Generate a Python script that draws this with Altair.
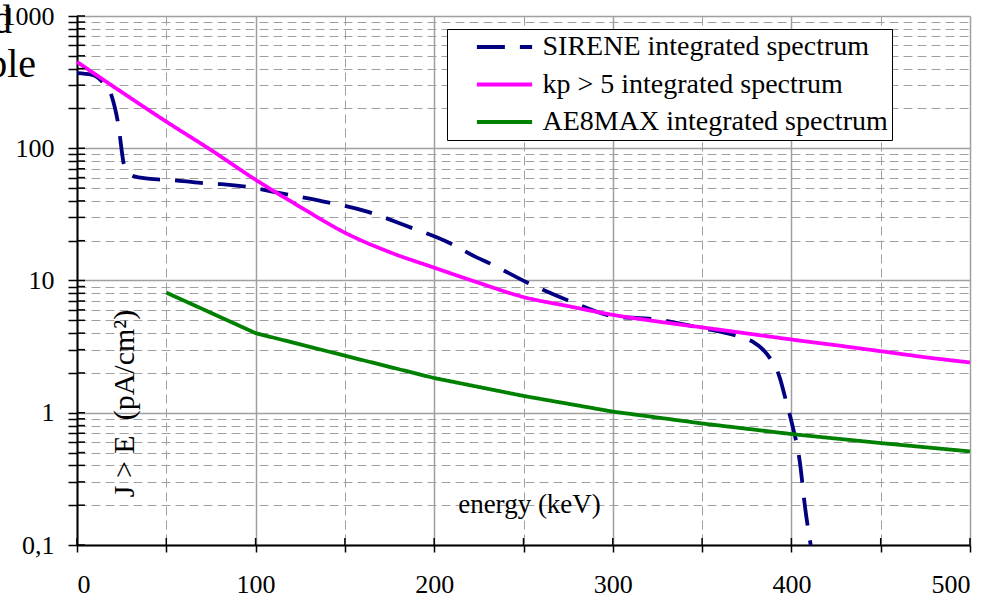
import altair as alt
import pandas as pd

FONT = "Liberation Serif"

SERIES = [
    "SIRENE integrated spectrum",
    "kp > 5 integrated spectrum",
    "AE8MAX integrated spectrum",
]
COLORS = ["#000080", "#FF00FF", "#008000"]
DASHES = [[28, 15], [1, 0], [1, 0]]

# energy (keV) / integrated flux J > E (pA/cm2)
SIRENE_E = [0, 8, 14, 19.5, 23, 26.6, 32, 47, 56, 71, 81, 97, 113, 137.5, 162, 185,
            208, 224, 230, 252, 276, 300, 324.5, 348.7, 372.8, 378.5, 386, 393.6,
            396.4, 400.2, 404.8, 407.6, 410.8]
SIRENE_J = [370, 360, 320, 246, 155, 73, 61.3, 57.8, 57, 54.5, 53.5, 50.6, 45.9, 39.7,
            33.3, 25.7, 19.4, 14.9, 13.7, 9.66, 6.98, 5.38, 5.08, 4.4, 3.69, 3.44,
            2.81, 1.82, 1.32, 0.84, 0.417, 0.195, 0.1]

KP_E = [0, 25, 50, 75, 100, 125, 150, 175, 200, 225, 250, 275, 300, 325, 350, 375,
        400, 425, 450, 475, 500]
KP_J = [450, 266, 159, 97, 57.8, 36, 23, 16.4, 12.5, 9.6, 7.5, 6.4, 5.5, 4.9, 4.42,
        3.98, 3.58, 3.24, 2.92, 2.63, 2.4]

AE8_E = [50, 100, 150, 200, 250, 300, 350, 400, 450, 500]
AE8_J = [8.1, 4.0, 2.7, 1.83, 1.34, 1.02, 0.83, 0.69, 0.59, 0.51]

X_TICKS = [0, 50, 100, 150, 200, 250, 300, 350, 400, 450, 500]
Y_DECADES = [0.1, 1, 10, 100, 1000]
Y_LABELS = ["0,1", "1", "10", "100", "1000"]
Y_TICKS = sorted({round(k * d, 6) for d in Y_DECADES[:-1] for k in range(1, 10)} | {1000})

rows = []
for name, es, js in zip(SERIES, [SIRENE_E, KP_E, AE8_E], [SIRENE_J, KP_J, AE8_J]):
    for e, j in zip(es, js):
        rows.append({"series": name, "energy": e, "J": j})
df = pd.DataFrame(rows)

x_scale = alt.Scale(domain=[0, 500], nice=False, zero=False)
y_scale = alt.Scale(type="log", domain=[0.1, 1000], nice=False)

y_label_expr = " : ".join(
    f"datum.value == {v} ? '{t}'" for v, t in zip(Y_DECADES, Y_LABELS)
) + " : ''"
decade_test = "indexof([" + ",".join(str(v) for v in Y_DECADES) + "], datum.value) >= 0"

x_axis = alt.Axis(
    values=X_TICKS,
    labelExpr="datum.value % 100 == 0 ? datum.label : ''",
    grid=True,
    gridColor="#A0A0A0",
    gridDash={"condition": {"test": "datum.value % 100 == 0", "value": [1, 0]}, "value": [9, 5]},
    gridWidth={"condition": {"test": "datum.value % 100 == 0", "value": 1.5}, "value": 1},
    domainColor="black",
    domainWidth=2,
    tickColor="black",
    tickWidth=1.5,
    tickSize=7,
    labelFont=FONT,
    labelFontSize=26,
    labelColor="black",
    labelPadding=19,
    labelBaseline="top",
    title="energy (keV)",
    titleFont=FONT,
    titleFontSize=27,
    titleFontWeight="normal",
    titleColor="black",
    titleX=452,
    titleY=-33,
    titleAlign="center",
    titleBaseline="alphabetic",
)

y_axis = alt.Axis(
    values=Y_TICKS,
    labelExpr=y_label_expr,
    grid=True,
    gridColor="#A0A0A0",
    gridDash={"condition": {"test": decade_test, "value": [1, 0]}, "value": [9, 5]},
    gridWidth={"condition": {"test": decade_test, "value": 1.5}, "value": 1},
    domainColor="black",
    domainWidth=2,
    tickColor="black",
    tickWidth=1.5,
    tickSize=9,
    labelFont=FONT,
    labelFontSize=26,
    labelColor="black",
    labelPadding=14,
    labelAlign="right",
    labelBaseline="middle",
    title="J > E\u00a0\u00a0(pA/cm²)",
    titleFont=FONT,
    titleFontSize=30,
    titleFontWeight="normal",
    titleColor="black",
    titleAngle=270,
    titleX=56,
    titleY=387,
    titleAlign="center",
    titleBaseline="alphabetic",
)

legend = alt.Legend(
    orient="none",
    legendX=370,
    legendY=13,
    title=None,
    strokeColor="black",
    fillColor="white",
    padding=4,
    symbolType="M-2.94,0H2.94",
    symbolSize=353,
    symbolStrokeWidth=4,
    symbolOffset=39.5,
    labelOffset=24,
    labelFont=FONT,
    labelFontSize=28,
    labelColor="black",
    labelLimit=0,
    labelExpr="datum.label + '\u00a0\u00a0\u00a0\u00a0'",
    rowPadding=9.5,
)

X_ENC = alt.X("energy:Q", scale=x_scale, axis=x_axis)
Y_ENC = alt.Y("J:Q", scale=y_scale, axis=y_axis)
COLOR_ENC = alt.Color("series:N", scale=alt.Scale(domain=SERIES, range=COLORS), legend=legend)
DASH_ENC = alt.StrokeDash("series:N", scale=alt.Scale(domain=SERIES, range=DASHES), legend=legend)

base = alt.Chart(df).encode(x=X_ENC, y=Y_ENC, color=COLOR_ENC, strokeDash=DASH_ENC)

# smooth curves for SIRENE and kp > 5, straight segments for AE8MAX
smooth = base.transform_filter(
    alt.FieldOneOfPredicate(field="series", oneOf=SERIES[:2])
).mark_line(strokeWidth=3.8, interpolate="monotone")
straight = base.transform_filter(
    alt.FieldEqualPredicate(field="series", equal=SERIES[2])
).mark_line(strokeWidth=3.8)

# inner halves of the tick marks, so the ticks cross the axis lines
x_inner = alt.Chart(pd.DataFrame({"energy": X_TICKS})).mark_rule(
    color="black", strokeWidth=1.5
).encode(x=X_ENC, y=alt.value(529), y2=alt.value(522))
y_inner = alt.Chart(pd.DataFrame({"J": Y_TICKS})).mark_rule(
    color="black", strokeWidth=1.5
).encode(y=Y_ENC, x=alt.value(0), x2=alt.value(8))

# stray caption fragments at the upper-left edge
frag_d = alt.Chart(pd.DataFrame({"t": ["d"]})).mark_text(
    font=FONT, fontSize=40, align="right", baseline="alphabetic", color="black"
).encode(text="t:N", x=alt.value(-65), y=alt.value(17))
frag_ple = alt.Chart(pd.DataFrame({"t": ["ple"]})).mark_text(
    font=FONT, fontSize=40, align="right", baseline="alphabetic", color="black"
).encode(text="t:N", x=alt.value(-41), y=alt.value(61))

chart = alt.layer(smooth, straight, x_inner, y_inner, frag_d, frag_ple).properties(
    width=893,
    height=529,
    autosize=alt.AutoSizeParams(type="none"),
    padding={"left": 77, "top": 16, "right": 35, "bottom": 51},
    background="white",
).configure_view(stroke=None)

chart.save("out.html", embed_options={"renderer": "svg", "actions": False})
